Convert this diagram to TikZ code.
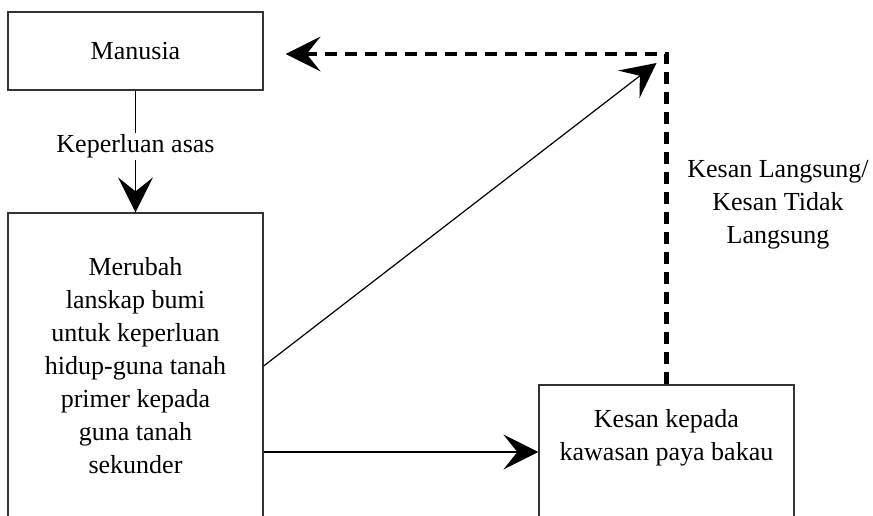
\documentclass[tikz,border=0pt]{standalone}
\usepackage{fontspec}
\setmainfont{Liberation Serif}
\usetikzlibrary{arrows.meta}

\begin{document}
\begin{tikzpicture}
[x=1pt,y=-1pt,
 kotak/.style={draw=black!80,line width=1.3pt,minimum width=255pt,inner sep=0pt},
 teks/.style={align=center,font=\fontsize{26}{33}\selectfont},
 panah/.style={-{Stealth[length=35pt,width=35pt,inset=14pt,line width=0pt]}},
 garis/.style={line width=1.2pt}]
\clip (0,0) rectangle (873,515);

\node[kotak,teks,minimum height=78pt] (manusia) at (135.5,51) {Manusia};
\node[kotak,teks,minimum height=306pt] (merubah) at (135.5,366) {Merubah\\lanskap bumi\\untuk keperluan\\hidup-guna tanah\\primer kepada\\guna tanah\\sekunder};
\node[kotak,minimum height=134pt] (kesan) at (666.5,452) {};
\node[teks] (kesanteks) at (666.5,438) {Kesan kepada\\kawasan paya bakau};
\node[teks] (jenis) at (778,205) {Kesan Langsung/\\Kesan Tidak\\Langsung};
\coordinate (sudut) at (666.5,54);

\draw[garis,panah] (manusia) -- (merubah) node[pos=0.46,fill=white,teks,inner sep=2pt] (keperluan) {Keperluan asas};
\draw[garis,panah] (merubah.east |- kesan.west) -- (kesan.west);
\draw[garis,panah] (merubah.east) -- ([xshift=-10pt,yshift=-9pt]sudut);
\draw[panah,line width=4.5pt,dash pattern=on 12pt off 8pt,shorten >=22pt] (kesan.north) -- (sudut) -- (sudut -| manusia.east);
\end{tikzpicture}
\end{document}
